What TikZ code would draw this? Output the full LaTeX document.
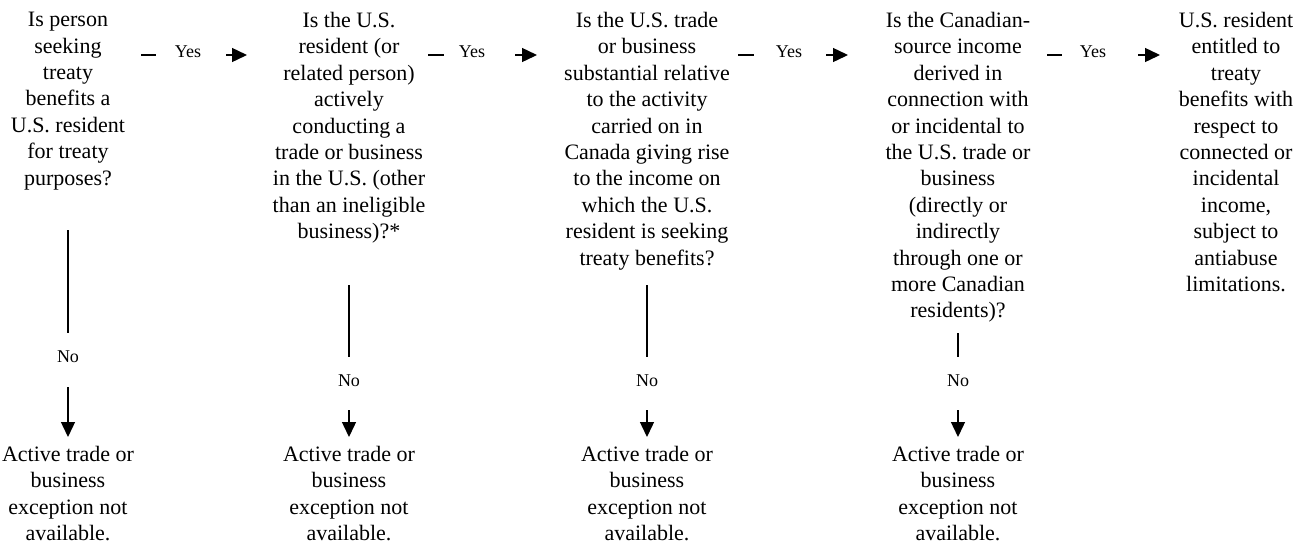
\documentclass[tikz,border=0pt]{standalone}
\usepackage{fontspec}
\setmainfont{Liberation Serif}
\usetikzlibrary{arrows.meta}
\begin{document}
\begin{tikzpicture}[x=1pt,y=-1pt,
  txt/.style={align=center, inner sep=0pt, anchor=north, font=\fontsize{22}{26.4}\selectfont},
  lbl/.style={inner sep=0pt, font=\fontsize{18}{20}\selectfont},
  ln/.style={line width=1.4pt},
  arr/.style={line width=1.4pt, -{Triangle[length=15pt,width=14pt]}}]
\useasboundingbox (0,0) rectangle (1302,550);
% question nodes
\node[txt] (q1) at (68,12) {Is person\\seeking\\treaty\\benefits a\\U.S. resident\\for treaty\\purposes?};
\node[txt] (q2) at (349,12) {Is the U.S.\\resident (or\\related person)\\actively\\conducting a\\trade or business\\in the U.S. (other\\than an ineligible\\business)?*};
\node[txt] (q3) at (647,12) {Is the U.S. trade\\or business\\substantial relative\\to the activity\\carried on in\\Canada giving rise\\to the income on\\which the U.S.\\resident is seeking\\treaty benefits?};
\node[txt] (q4) at (958,12) {Is the Canadian-\\source income\\derived in\\connection with\\or incidental to\\the U.S. trade or\\business\\(directly or\\indirectly\\through one or\\more Canadian\\residents)?};
\node[txt] (q5) at (1236,12) {U.S. resident\\entitled to\\treaty\\benefits with\\respect to\\connected or\\incidental\\income,\\subject to\\antiabuse\\limitations.};
% result nodes
\foreach \i/\x in {1/68,2/349,3/647,4/958}{
  \node[txt] (r\i) at (\x,446) {Active trade or\\business\\exception not\\available.};
}
% Yes connectors
\foreach \i/\ds/\de/\yx/\as/\ae in {1/141/156/188/226/247, 2/428/444/472/515/537, 3/738/754/789/826/848, 4/1047/1062/1093/1138/1160}{
  \coordinate (ys\i) at (\ds,55);
  \coordinate (ye\i) at (\de,55);
  \node[lbl] (yes\i) at (\yx,52) {Yes};
  \coordinate (as\i) at (\as,55);
  \coordinate (ae\i) at (\ae,55);
  \draw[ln] (ys\i) -- (ye\i);
  \draw[arr] (as\i) -- (ae\i);
}
% No connectors
\foreach \i/\x/\lt/\lb/\ny/\at/\ab in {1/68/230/333/357/387/437, 2/349/285/357/381/410/437, 3/647/285/357/381/410/437, 4/958/333/357/381/410/437}{
  \coordinate (lt\i) at (\x,\lt);
  \coordinate (lb\i) at (\x,\lb);
  \node[lbl] (no\i) at (\x,\ny) {No};
  \coordinate (at\i) at (\x,\at);
  \coordinate (ab\i) at (\x,\ab);
  \draw[ln] (lt\i) -- (lb\i);
  \draw[arr] (at\i) -- (ab\i);
}
\end{tikzpicture}
\end{document}
